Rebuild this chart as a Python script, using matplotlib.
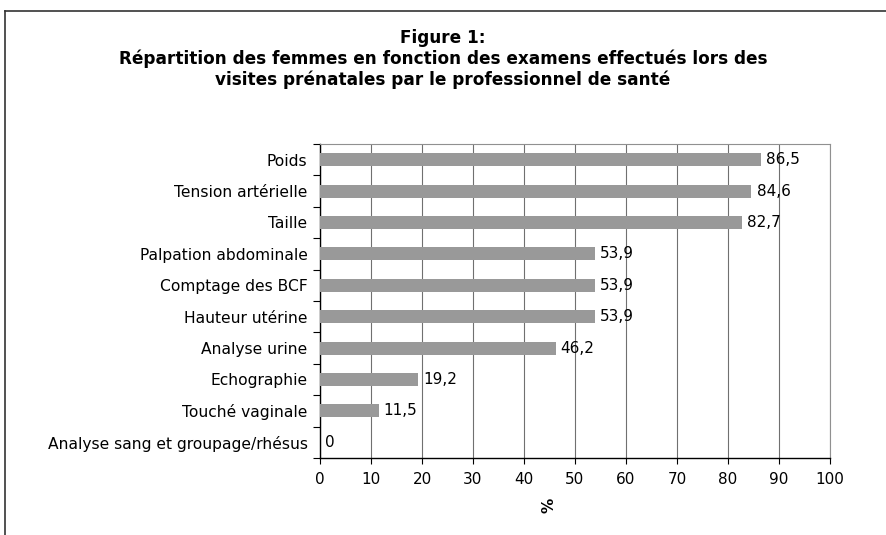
import matplotlib.pyplot as plt
from matplotlib.lines import Line2D
from matplotlib.ticker import FixedLocator

plt.rcParams['font.family'] = ['DejaVu Sans']

# examens effectués lors des visites prénatales (%)
examens = ['Poids', 'Tension artérielle', 'Taille', 'Palpation abdominale',
           'Comptage des BCF', 'Hauteur utérine', 'Analyse urine',
           'Echographie', 'Touché vaginale', 'Analyse sang et groupage/rhésus']
pourcentages = [86.5, 84.6, 82.7, 53.9, 53.9, 53.9, 46.2, 19.2, 11.5, 0]
xticks = [0, 10, 20, 30, 40, 50, 60, 70, 80, 90, 100]

fig = plt.figure(figsize=(8.86, 5.35), dpi=100)
ax = fig.add_axes([320/886, 1-458/535, 510/886, 314/535])

n = len(examens)
pos = list(range(n))[::-1]
ax.barh(pos, pourcentages, height=0.42, color='#999999', zorder=3)
for y, v in zip(pos, pourcentages):
    ax.text(v + 1, y, f'{v:.1f}'.replace('.', ',') if v else '0',
            va='center', ha='left', fontsize=11, zorder=4)

ax.set_xlim(0, 100)
ax.set_ylim(-0.5, n - 0.5)
ax.set_xticks(xticks)
ax.set_yticks(pos)
ax.set_yticklabels(examens, fontsize=11.2)
ax.tick_params(axis='y', which='major', length=0, pad=9)
ax.yaxis.set_minor_locator(FixedLocator([i - 0.5 for i in range(n + 1)]))
ax.tick_params(axis='y', which='minor', length=5, width=0.8, direction='out')
ax.tick_params(axis='x', length=4, width=0.8, direction='out', labelsize=11, pad=6)
ax.grid(axis='x', color='#707070', linewidth=0.8, zorder=0)

for s in ['left', 'bottom']:
    ax.spines[s].set_color('black')
    ax.spines[s].set_linewidth(1.0)
for s in ['top', 'right']:
    ax.spines[s].set_color('#909090')
    ax.spines[s].set_linewidth(0.8)

fig.text(549/886, 1-505/535, '%', rotation=90, ha='center', va='center',
         fontsize=11, fontweight='bold')

titre = ['Figure 1:',
         'Répartition des femmes en fonction des examens effectués lors des',
         'visites prénatales par le professionnel de santé']
for i, t in enumerate(titre):
    fig.text(443/886, 1-(38 + 21*i)/535, t, ha='center', va='center',
             fontsize=12.2, fontweight='bold')

# cadre extérieur
fig.add_artist(Line2D([5/886, 5/886], [0, 1-11/535], color='#333333', lw=1.2))
fig.add_artist(Line2D([5/886, 1], [1-11/535, 1-11/535], color='#333333', lw=1.2))

fig.savefig('out.png', dpi=100)
